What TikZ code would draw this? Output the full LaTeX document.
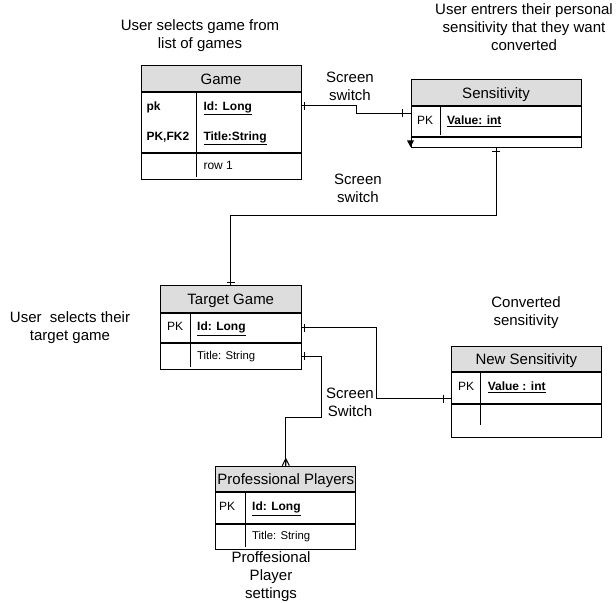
\documentclass[tikz,border=0pt]{standalone}
\usepackage{fontspec}
\setmainfont{Liberation Sans}
\usetikzlibrary{calc,decorations.markings}
\definecolor{hdrgray}{RGB}{221,221,221}
\newcommand{\px}{0.75pt}
\newcommand{\lblfont}{\fontsize{11.25}{13.5}\selectfont}
\newcommand{\fldfont}{\fontsize{9}{11}\selectfont}
\newcommand{\sfldfont}{\fontsize{8.5}{10}\selectfont}
\tikzset{
  hdr/.style={draw, fill=hdrgray, inner sep=0pt, anchor=north west, font=\lblfont, text height=8pt, text depth=0pt},
  tblrow/.style={draw, inner sep=0pt, anchor=north west},
  txt/.style={inner sep=0pt, anchor=west, font=\fldfont, text height=6.4pt, text depth=0pt},
  note/.style={align=center, inner sep=0pt, font=\lblfont},
  bars/.style 2 args={postaction={decorate, decoration={markings,
    mark=at position #1 with {\draw (0,-4) -- (0,4);},
    mark=at position #2 with {\draw (0,-4) -- (0,4);}}}},
  crowfoot/.style={postaction={decorate, decoration={markings,
    mark=at position 2.25pt with {\draw (0,-4) -- (0,4);},
    mark=at position -5.25pt with {\draw (0,0) -- (7,3.5) (0,0) -- (7,0) (0,0) -- (7,-3.5);}}}}
}

\begin{document}
\begin{tikzpicture}[x=0.75pt, y=-0.75pt, line width=0.75pt]
\useasboundingbox (0,0) rectangle (616,602);
% Game:
\node (game) [hdr, minimum width=160*\px, minimum height=25.5*\px] at (140.5,65.5) {Game};
\node (gamekeys) [tblrow, minimum width=160*\px, minimum height=60.5*\px] at (game.south west) {};
\node (gamerow) [tblrow, minimum width=160*\px, minimum height=25.5*\px] at (gamekeys.south west) {};
\draw (196,91) -- (196,177);
\node (gamepk) [txt] at (146,106) {\textbf{pk}};
\node (gameid) [txt] at (203,106) {\underline{\textbf{Id: Long}}};
\node (gamefk) [txt] at (146,136) {\textbf{PK,FK2}};
\node (gametitle) [txt] at (203,136) {\underline{\textbf{Title:String}}};
\node (gamerowone) [txt] at (203,165) {row 1};
\node (gamenote) [note] at (200,36) {User selects game from\\list of games};

% Sensitivity:
\node (sens) [hdr, minimum width=170*\px, minimum height=26.5*\px] at (410.5,79) {Sensitivity};
\node (senskey) [tblrow, minimum width=170*\px, minimum height=29.5*\px] at (sens.south west) {};
\node (sensrow) [tblrow, minimum width=170*\px, minimum height=10*\px] at (senskey.south west) {};
\draw (440.7,105.5) -- (440.7,135);
\node (senspk) [txt] at (416.5,120.5) {PK};
\node (sensval) [txt] at (446.5,120.5) {\underline{\textbf{Value: int}}};
\fill (407,140.5) -- (414,140.5) -- (410.5,147) -- cycle;
\node (sensnote) [note] at (524,27.5) {User entrers their personal\\sensitivity that they want\\converted};

% Target Game:
\node (target) [hdr, minimum width=140.5*\px, minimum height=26.5*\px] at (160,285) {Target Game};
\node (targetid) [tblrow, minimum width=140.5*\px, minimum height=29.5*\px] at (target.south west) {};
\node (targettitle) [tblrow, minimum width=140.5*\px, minimum height=25.5*\px] at (targetid.south west) {};
\draw (190.7,311.5) -- (190.7,366.5);
\node (targetpk) [txt] at (166.5,326.5) {PK};
\node (targetidtxt) [txt] at (196.7,326.5) {\underline{\textbf{Id: Long}}};
\node (targettitletxt) [txt, font=\sfldfont] at (196.7,355) {Title: String};
\node (targetnote) [note] at (70,328) {User\ \ selects their\\target game};

% New Sensitivity:
\node (newsens) [hdr, minimum width=150.3*\px, minimum height=25.3*\px] at (450.7,345.7) {New Sensitivity};
\node (newsenskey) [tblrow, minimum width=150.3*\px, minimum height=30.7*\px] at (newsens.south west) {};
\node (newsensrow) [tblrow, minimum width=150.3*\px, minimum height=33.3*\px] at (newsenskey.south west) {};
\draw (480.7,371) -- (480.7,425);
\node (newsenspk) [txt] at (457.5,386.5) {PK};
\node (newsensval) [txt] at (487.3,386.5) {\underline{\textbf{Value : int}}};
\node (newsensnote) [note] at (526,313) {Converted\\sensitivity};

% Professional Players:
\node (pro) [hdr, minimum width=140*\px, minimum height=25.3*\px] at (215.3,465.7) {Professional Players};
\node (proid) [tblrow, minimum width=140*\px, minimum height=30.7*\px] at (pro.south west) {};
\node (protitle) [tblrow, minimum width=140*\px, minimum height=25.6*\px] at (proid.south west) {};
\draw (245.7,491) -- (245.7,547.3);
\node (propk) [txt] at (218.5,506.5) {PK};
\node (proidtxt) [txt] at (251.7,506.5) {\underline{\textbf{Id: Long}}};
\node (protitletxt) [txt, font=\sfldfont] at (251.7,535.5) {Title: String};
\node (pronote) [note] at (271,576.5) {Proffesional\\Player\\settings};

% Connectors:
\draw[bars={2.25pt}{-6pt}] (gamekeys.east |- gameid) -- ++(54.5,0) |- ($(senskey.west)+(0,-8.5)$);
\node (switchone) [note] at (350,86) {Screen\\switch};
\draw[bars={3pt}{-2.25pt}] (sensrow.south) -- ++(0,67) -| (target.north);
\node (switchtwo) [note] at (358,188.5) {Screen\\switch};
\draw[bars={2.25pt}{-5.25pt}] (targetid.east) -- ++(75.2,0) |- ($(newsenskey.west)+(0,10.7)$);
\draw[crowfoot] (targettitle.east) -- ++(20.2,0) -- ++(0,61.7) -| (pro.north);
\node (switchthree) [note] at (350,402.3) {Screen\\Switch};
\end{tikzpicture}
\end{document}
